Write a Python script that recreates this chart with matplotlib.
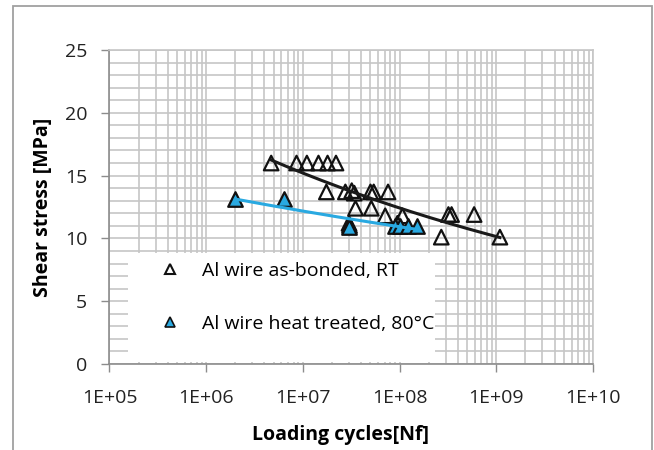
import numpy as np
import matplotlib
matplotlib.use("Agg")
from matplotlib import pyplot as plt
from matplotlib.patches import Rectangle
from matplotlib.lines import Line2D
from matplotlib.ticker import FixedLocator, MultipleLocator, NullFormatter, FuncFormatter

plt.rcParams['font.family'] = ['Open Sans', 'DejaVu Sans']
plt.rcParams['font.size'] = 14

# Al wire as-bonded, RT
rt_cycles = np.array([4.7e6, 8.6e6, 1.1e7, 1.45e7, 1.8e7, 2.2e7,
                      1.75e7, 2.75e7, 3.2e7, 3.4e7, 5.0e7, 5.4e7, 7.6e7,
                      3.5e7, 5.1e7, 7.1e7, 1.07e8, 3.2e8, 3.45e8, 5.9e8,
                      3.0e7, 9.5e7, 2.7e8, 1.09e9])
rt_stress = np.array([16.0, 16.0, 16.0, 16.0, 16.0, 16.0,
                      13.7, 13.7, 13.8, 13.6, 13.7, 13.7, 13.7,
                      12.4, 12.4, 11.8, 11.8, 11.9, 11.9, 11.9,
                      11.2, 11.2, 10.1, 10.1])

# Al wire heat treated, 80°C
ht_cycles = np.array([2.0e6, 6.4e6, 3.0e7, 3.0e7, 9.0e7, 1.0e8, 1.23e8, 1.5e8])
ht_stress = np.array([13.1, 13.1, 11.1, 10.9, 11.0, 11.0, 11.0, 11.0])

labels = ['Al wire as-bonded, RT', 'Al wire heat treated, 80°C']
x_ticks = [1e5, 1e6, 1e7, 1e8, 1e9, 1e10]

blue = '#29a9e1'
grid_c = '#c6c6c6'
axis_c = '#8c8c8c'


def power_trend(x, y):
    # Excel-style power trendline: y = a * x^b
    b, lna = np.polyfit(np.log(x), np.log(y), 1)
    xs = np.geomspace(x.min(), x.max(), 200)
    return xs, np.exp(lna) * xs ** b


fig = plt.figure(figsize=(6.54, 4.5), dpi=100)
ax = fig.add_axes([0.1674, 0.1911, 0.7393, 0.6978])

# outer chart border
fig.patches.append(Rectangle((13 / 654, -0.1), 639 / 654, 1.1 - 6 / 450,
                             transform=fig.transFigure, fill=False,
                             edgecolor='#a0a0a0', linewidth=1.3))

ax.set_xscale('log')
ax.set_xlim(1e5, 1e10)
ax.set_ylim(0, 25)
ax.xaxis.set_major_locator(FixedLocator(x_ticks))
ax.xaxis.set_major_formatter(FuncFormatter(lambda v, p: '1E+%02d' % round(np.log10(v))))
ax.xaxis.set_minor_formatter(NullFormatter())
ax.yaxis.set_major_locator(MultipleLocator(5))
ax.yaxis.set_minor_locator(MultipleLocator(1))

ax.set_axisbelow(True)
ax.grid(True, which='both', color=grid_c, linewidth=1.2)
ax.tick_params(which='major', direction='out', length=6, width=1, color=axis_c,
               labelcolor='#222222')
ax.tick_params(axis='y', which='major', pad=10)
ax.tick_params(axis='x', which='major', pad=12)
ax.tick_params(which='minor', length=0)
for s in ['left', 'bottom']:
    ax.spines[s].set_color(axis_c)
    ax.spines[s].set_linewidth(1.2)
for s in ['top', 'right']:
    ax.spines[s].set_color(grid_c)
    ax.spines[s].set_linewidth(1.2)

# legend area (white box over the grid)
ax.add_patch(Rectangle((0.038, 0.006), 0.635, 0.348, transform=ax.transAxes,
                       facecolor='white', edgecolor='none', zorder=1))

ax.scatter(rt_cycles, rt_stress, marker='^', s=110, facecolors='none',
           edgecolors='#111111', linewidths=1.6, zorder=3)
ax.scatter(ht_cycles, ht_stress, marker='^', s=110, facecolors=blue,
           edgecolors='#111111', linewidths=1.6, zorder=4)

xs, ys = power_trend(rt_cycles, rt_stress)
ax.plot(xs, ys, color='#1a1a1a', linewidth=2.2, zorder=5)
xs, ys = power_trend(ht_cycles, ht_stress)
ax.plot(xs, ys, color=blue, linewidth=2.2, zorder=5)

handles = [
    Line2D([], [], linestyle='none', marker='^', markersize=7, markerfacecolor='none',
           markeredgecolor='#111111', markeredgewidth=1.5),
    Line2D([], [], linestyle='none', marker='^', markersize=7, markerfacecolor=blue,
           markeredgecolor='#111111', markeredgewidth=1.2),
]
ax.legend(handles, labels, loc='upper left', bbox_to_anchor=(0.105, 0.326),
          frameon=False, borderpad=0, borderaxespad=0, handlelength=1,
          handletextpad=1.15, labelspacing=1.83, fontsize=14)

ax.set_xlabel('Loading cycles[Nf]', fontweight='bold', fontsize=14)
ax.set_ylabel('Shear stress [MPa]', fontweight='bold', fontsize=14)
ax.xaxis.set_label_coords(0.477, -0.195)
ax.yaxis.set_label_coords(-0.117, 0.5)

fig.savefig('out.png', dpi=100)
